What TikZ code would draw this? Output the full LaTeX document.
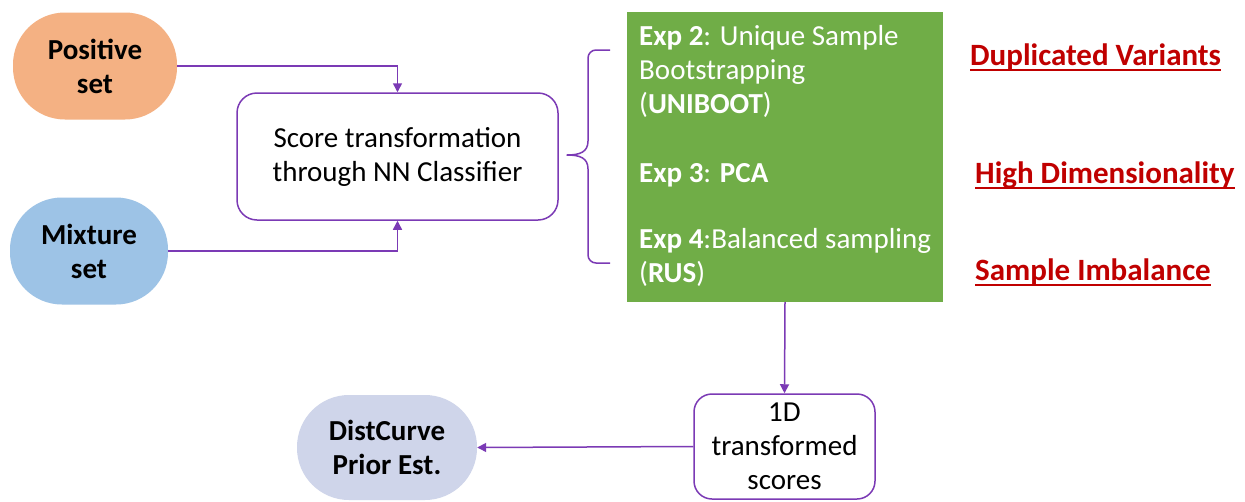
\documentclass[tikz,border=0pt]{standalone}
\usepackage{fontspec}
\setmainfont{Carlito}
\usetikzlibrary{arrows.meta}
\newcommand{\redul}[1]{\vtop{\hbox{\vrule width0pt height 20pt depth 0pt\smash{#1}}\kern4pt\hrule height 2pt}}
\definecolor{posorange}{HTML}{F4B183}
\definecolor{mixblue}{HTML}{9DC3E6}
\definecolor{distlav}{HTML}{CFD5EA}
\definecolor{expgreen}{HTML}{70AD47}
\definecolor{linepurple}{HTML}{7B3AB5}
\definecolor{probred}{HTML}{C00000}
\tikzset{
  txt/.style={font=\fontsize{29}{34}\selectfont},
  stadium/.style={txt, font=\bfseries\fontsize{29}{34}\selectfont, align=center, inner sep=0pt, rounded corners=52pt},
  procbox/.style={txt, align=center, draw=linepurple, line width=1.5pt, fill=white, inner sep=0pt},
  conn/.style={draw=linepurple, line width=1.5pt, -{Triangle[length=9pt,width=9pt]}},
  exptext/.style={txt, text=white, anchor=base west, align=left, inner sep=0pt},
  problem/.style={font=\bfseries\fontsize{31}{36}\selectfont, text=probred, anchor=base west, inner sep=0pt},
}
\begin{document}
\begin{tikzpicture}[x=1pt,y=-1pt]
\useasboundingbox (0,0) rectangle (1245,501);
\fill[white] (0,0) rectangle (1245,501);

\node[stadium, fill=posorange, minimum width=164pt, minimum height=107pt] (pos) at (95,66) {Positive\\set};
\node[stadium, fill=mixblue, minimum width=158pt, minimum height=107pt] (mix) at (89,251) {Mixture\\set};
\node[procbox, rounded corners=20pt, minimum width=321pt, minimum height=127pt] (score) at (397.5,156.5) {Score transformation\\through NN Classifier};

\node[fill=expgreen, minimum width=316pt, minimum height=290pt, inner sep=0pt] (green) at (785,157) {};
\node[exptext] (exp2) at (639,113) {\textbf{Exp 2}: Unique Sample\\Bootstrapping\\(\textbf{UNIBOOT})};
\node[exptext] (exp3) at (639,182) {\textbf{Exp 3}: \textbf{PCA}};
\node[exptext] (exp4) at (639,282) {\textbf{Exp 4}:Balanced sampling\\(\textbf{RUS})};

\node[problem] (dup) at (970,65) {\redul{Duplicated Variants}};
\node[problem] (high) at (975,183) {\redul{High Dimensionality}};
\node[problem] (imb) at (975,280) {\redul{Sample Imbalance}};

\node[procbox, rounded corners=18pt, minimum width=181pt, minimum height=105pt] (oned) at (784.5,446.5) {1D\\transformed\\scores};
\node[stadium, fill=distlav, minimum width=180pt, minimum height=105pt] (dist) at (387,447.5) {DistCurve\\Prior Est.};

% brace
\draw[linepurple, line width=1.5pt, line join=round]
  (610,50) -- (596,50) arc[start angle=-90, end angle=-180, radius=8]
  -- (588,141) .. controls (588,152) and (580,155) .. (567,155)
  .. controls (580,155) and (588,158) .. (588,169)
  -- (588,255) arc[start angle=180, end angle=90, radius=8] -- (610,263);

\draw[conn] (pos.east) -| (score.north);
\draw[conn] (mix.east) -| (score.south);
\draw[conn] (green.south) -- (oned.north);
\draw[conn] (oned.west) -- (dist.east);
\end{tikzpicture}
\end{document}
